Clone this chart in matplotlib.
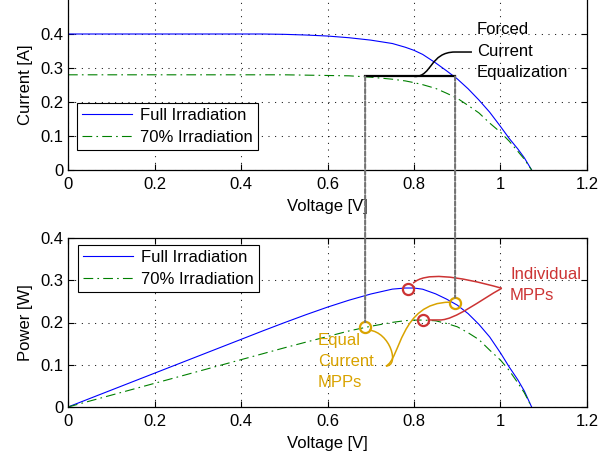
import numpy as np
import matplotlib
matplotlib.use('Agg')
import matplotlib.pyplot as plt
import matplotlib.patches as mpatches
from matplotlib.path import Path
from matplotlib.patches import ConnectionPatch
from matplotlib.ticker import FuncFormatter

plt.rcParams['font.family'] = ['Liberation Sans', 'DejaVu Sans']
plt.rcParams['lines.scale_dashes'] = False

# values
voltage = [0.0, 0.1, 0.2, 0.3, 0.4, 0.45, 0.5, 0.55, 0.6, 0.65, 0.7, 0.75, 0.78,
           0.8, 0.82, 0.85, 0.875, 0.9, 0.925, 0.95, 0.975, 1.0, 1.02, 1.04, 1.055, 1.072]
current_full = [0.4, 0.4, 0.4, 0.4, 0.4, 0.4, 0.399, 0.397, 0.394, 0.389, 0.382, 0.372, 0.361,
                0.352, 0.340, 0.315, 0.292, 0.268, 0.239, 0.206, 0.170, 0.128, 0.093, 0.062, 0.036, 0.0]
current_70 = [0.28, 0.28, 0.28, 0.28, 0.28, 0.28, 0.28, 0.279, 0.278, 0.277, 0.273, 0.267, 0.262,
              0.257, 0.251, 0.240, 0.226, 0.211, 0.190, 0.168, 0.138, 0.111, 0.085, 0.055, 0.032, 0.0]
power_full = [0.0, 0.040, 0.080, 0.120, 0.160, 0.180, 0.1995, 0.2184, 0.2364, 0.2529, 0.2674, 0.279, 0.2816,
              0.2816, 0.2788, 0.2678, 0.2555, 0.2412, 0.2211, 0.1957, 0.1658, 0.128, 0.0949, 0.0645, 0.038, 0.0]
power_70 = [0.0, 0.028, 0.056, 0.084, 0.112, 0.126, 0.140, 0.1535, 0.1668, 0.1801, 0.1911, 0.2003, 0.2044,
            0.2056, 0.2058, 0.204, 0.1978, 0.1899, 0.1758, 0.1596, 0.1346, 0.111, 0.0867, 0.0572, 0.0338, 0.0]

eq_current = 0.275
eq_v_range = [0.687, 0.895]
mpp_v = [0.785, 0.82]
mpp_p = [0.280, 0.206]
eq_mpp_v = [0.687, 0.895]
eq_mpp_p = [0.189, 0.247]

# annotation connector paths (data coords)
forced_path = [(0.802, 0.275), (0.842, 0.275), (0.837, 0.347), (0.895, 0.347), (0.934, 0.347)]
indiv_path_a = [(0.798, 0.293), (0.825, 0.319), (0.895, 0.312), (1.003, 0.281)]
indiv_path_b = [(0.832, 0.206), (0.860, 0.206), (0.895, 0.206), (0.953, 0.253), (1.003, 0.281)]
equal_path_a = [(0.696, 0.182), (0.745, 0.177), (0.768, 0.097), (0.735, 0.097)]
equal_path_b = [(0.735, 0.097), (0.768, 0.111), (0.768, 0.248), (0.883, 0.248)]

blue = (0, 0, 1)
green = (0, 0.5, 0)
red = '#cc3333'
gold = '#d9a300'
dashdot = (0, (7, 3, 1.2, 3))
fs = 12

fig = plt.figure(figsize=(6.16, 4.57), dpi=100)
ax1 = fig.add_axes([68/616, 1-170/457, 519/616, 170/457])
ax2 = fig.add_axes([68/616, 1-407/457, 519/616, 169/457])


def style(ax, ymax):
    ax.set_xlim(0, 1.2)
    ax.set_ylim(0, ymax)
    ax.set_xticks(np.arange(0, 1.21, 0.2))
    ax.set_yticks(np.arange(0, 0.41, 0.1))
    fmt = FuncFormatter(lambda v, p: '%g' % round(v, 2))
    ax.xaxis.set_major_formatter(fmt)
    ax.yaxis.set_major_formatter(fmt)
    ax.grid(True, color='k', linestyle=(0, (0.7, 4.1)), linewidth=0.75)
    ax.tick_params(direction='in', length=4, top=True, right=True, labelsize=fs, width=0.8)
    ax.tick_params(axis='x', pad=5)
    ax.tick_params(axis='y', pad=3.5)
    for s in ax.spines.values():
        s.set_linewidth(0.9)
    ax.set_xlabel('Voltage [V]', fontsize=fs, labelpad=5)


style(ax1, 0.5)
ax1.spines['top'].set_visible(False)
ax1.tick_params(top=False)
style(ax2, 0.4)

ax1.plot(voltage, current_full, color=blue, lw=0.8, label='Full Irradiation')
ax1.plot(voltage, current_70, color=green, lw=0.8, linestyle=dashdot, label='70% Irradiation')
ax1.plot(eq_v_range, [eq_current, eq_current], color='k', lw=1.6, zorder=4)
ax1.set_ylabel('Current [A]', fontsize=fs, labelpad=5)

ax2.plot(voltage, power_full, color=blue, lw=0.8, label='Full Irradiation')
ax2.plot(voltage, power_70, color=green, lw=0.8, linestyle=dashdot, label='70% Irradiation')
ax2.set_ylabel('Power [W]', fontsize=fs, labelpad=5)

ax2.plot(mpp_v, mpp_p, 'o', ms=8, mfc='none', mec=red, mew=1.6, zorder=5)
ax2.plot(eq_mpp_v, eq_mpp_p, 'o', ms=8, mfc='none', mec=gold, mew=1.6, zorder=5)

for ax, loc, anchor in [(ax1, 'lower left', (0.017, 0.118)), (ax2, 'upper left', (0.019, 0.959))]:
    leg = ax.legend(loc=loc, bbox_to_anchor=anchor, borderaxespad=0, fancybox=False,
                    edgecolor='k', framealpha=1, fontsize=fs, handlelength=3.0,
                    handletextpad=0.5, borderpad=0.3, labelspacing=0.4)
    leg.get_frame().set_linewidth(0.8)


def connector(ax, pts, color, lw, first_line=False):
    if first_line:
        codes = [Path.MOVETO, Path.LINETO, Path.CURVE4, Path.CURVE4, Path.CURVE4]
    elif len(pts) == 5:
        codes = [Path.MOVETO, Path.CURVE4, Path.CURVE4, Path.CURVE4, Path.LINETO]
    else:
        codes = [Path.MOVETO, Path.CURVE4, Path.CURVE4, Path.CURVE4]
    ax.add_patch(mpatches.PathPatch(Path(pts, codes), fill=False, edgecolor=color,
                                    lw=lw, zorder=4, clip_on=False))


connector(ax1, forced_path, 'k', 1.1)
connector(ax2, indiv_path_a, red, 1.1)
connector(ax2, indiv_path_b, red, 1.1, first_line=True)
connector(ax2, equal_path_a, gold, 1.1)
connector(ax2, equal_path_b, gold, 1.1)

ax1.text(0.945, 0.35, 'Forced\nCurrent\nEqualization', fontsize=fs, ha='left', va='center',
         linespacing=1.5)
ax2.text(1.022, 0.288, 'Individual\nMPPs', fontsize=fs, color=red, ha='left', va='center',
         linespacing=1.5)
ax2.text(0.578, 0.107, 'Equal\nCurrent\nMPPs', fontsize=fs, color=gold, ha='left', va='center',
         linespacing=1.5)

# gray dashed drop lines from the equalized current to the equal-current MPPs
for v, p in zip(eq_mpp_v, eq_mpp_p):
    con = ConnectionPatch(xyA=(v, eq_current), coordsA=ax1.transData,
                          xyB=(v, p + 0.012), coordsB=ax2.transData,
                          color='0.45', lw=1.5, linestyle=(0, (3, 1.5)))
    fig.add_artist(con)

fig.savefig('out.png', dpi=100)
